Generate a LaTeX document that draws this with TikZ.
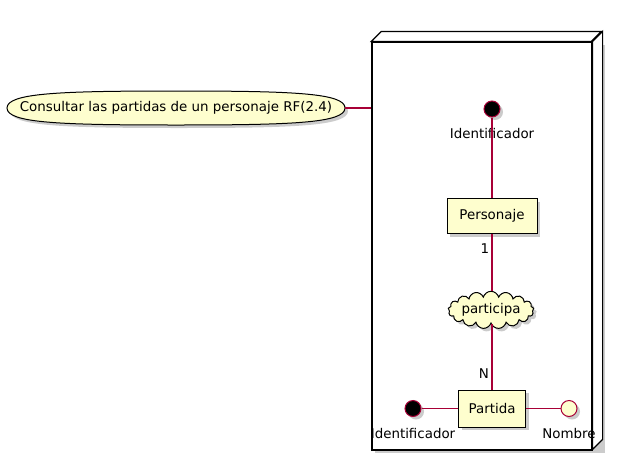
\documentclass[tikz,border=0pt]{standalone}
\usepackage{fontspec}
\setmainfont{DejaVu Sans}
\usetikzlibrary{shapes.symbols,shadows}
\definecolor{ufill}{HTML}{FEFECE}
\definecolor{uline}{HTML}{A80036}
\begin{document}
\begin{tikzpicture}[x=1pt,y=-1pt,font=\fontsize{13.4}{15}\selectfont,
  shad/.style={drop shadow={shadow xshift=3pt,shadow yshift=-3pt,fill=black!40,opacity=0.5}},
  conn/.style={draw=uline,line width=1.3pt},
  entity/.style={draw=black,line width=1pt,fill=ufill,minimum width=#1,minimum height=35pt,inner sep=0pt,shad},
  keyattr/.style={circle,draw=uline,line width=1pt,fill=black,minimum size=16pt,inner sep=0pt,shad},
  attr/.style={circle,draw=uline,line width=1pt,fill=ufill,minimum size=16pt,inner sep=0pt,shad},
  card/.style={inner sep=0pt}
]
\useasboundingbox (0,0) rectangle (623,461);
% node box (3D)
\fill[black!40,opacity=0.5] (375,45) rectangle (605,453);
\node[draw=black,line width=1.2pt,fill=white,minimum width=220pt,minimum height=408pt,inner sep=0pt] (box) at (482,246) {};
\draw[line width=1.2pt,fill=white] (box.north west) -- ++(10,-10) -- ++(220,0) -- ++(-10,10) -- cycle;
\draw[line width=1.2pt,fill=white] (box.north east) -- ++(10,-10) -- ++(0,408) -- ++(-10,10) -- cycle;
% use case
\fill[black!40,opacity=0.5,shift={(3,3)}] (7,108) .. controls (7,93) and (60,91) .. (176,91) .. controls (292,91) and (345,93) .. (345,108) .. controls (345,123) and (292,125) .. (176,125) .. controls (60,125) and (7,123) .. (7,108);
\draw[line width=1pt,fill=ufill] (7,108) .. controls (7,93) and (60,91) .. (176,91) .. controls (292,91) and (345,93) .. (345,108) .. controls (345,123) and (292,125) .. (176,125) .. controls (60,125) and (7,123) .. (7,108) -- cycle;
\node[minimum width=338pt,minimum height=34pt,inner sep=0pt] (uc) at (176,108) {Consultar las partidas de un personaje RF(2.4)};
% entities
\node[keyattr,label={[label distance=7pt]below:Identificador}] (idt) at (492,109) {};
\node[entity=90pt] (pers) at (492,216) {Personaje};
\node[cloud,cloud puffs=17,aspect=3.2,draw=black,line width=1pt,fill=ufill,minimum width=80pt,minimum height=25pt,inner sep=0pt,shad] (part) at (491,310) {participa};
\node[entity=67pt,minimum height=37pt] (pda) at (492,408.5) {Partida};
\node[keyattr,label={[label distance=8pt]below:Identificador}] (idl) at (413,408.5) {};
\node[attr,label={[label distance=8pt]below:Nombre}] (nom) at (569,408.5) {};
% connectors
\draw[conn] (uc.east) -- (box.west |- uc.east);
\draw[conn] (idt) -- (pers);
\draw[conn] (pers.south) -- (pers.south |- part.north);
\draw[conn] (pda.north |- part.south) -- (pda.north);
\draw[conn] (idl) -- (pda);
\draw[conn] (pda) -- (nom);
\node[card] (c1) at (485,249) {1};
\node[card] (cn) at (484,374) {N};
\end{tikzpicture}
\end{document}
